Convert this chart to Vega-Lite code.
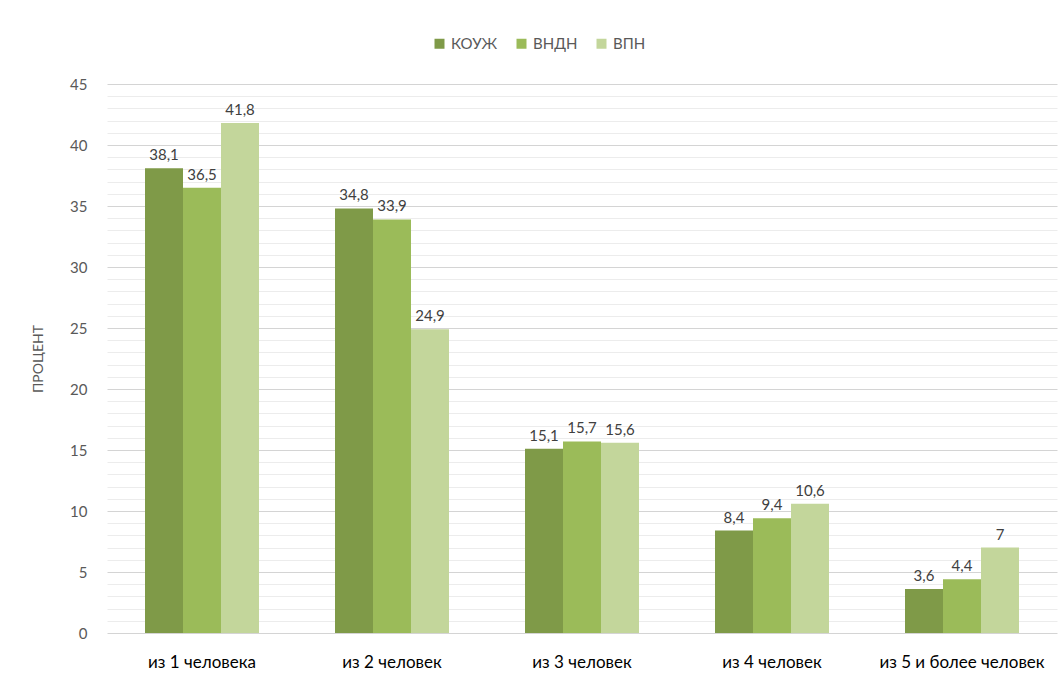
{
  "$schema": "https://vega.github.io/schema/vega-lite/v6.json",
  "autosize": "none",
  "width": 950,
  "height": 549,
  "padding": {"left": 107, "top": 84, "right": 5, "bottom": 49},
  "background": "white",
  "config": {
    "view": {"stroke": null},
    "font": "Lato",
    "locale": {"number": {"decimal": ",", "thousands": " ", "grouping": [3], "currency": ["", ""]}}
  },
  "data": {
    "values": [
      {"group": "из 1 человека", "series": "КОУЖ", "value": 38.1},
      {"group": "из 1 человека", "series": "ВНДН", "value": 36.5},
      {"group": "из 1 человека", "series": "ВПН", "value": 41.8},
      {"group": "из 2 человек", "series": "КОУЖ", "value": 34.8},
      {"group": "из 2 человек", "series": "ВНДН", "value": 33.9},
      {"group": "из 2 человек", "series": "ВПН", "value": 24.9},
      {"group": "из 3 человек", "series": "КОУЖ", "value": 15.1},
      {"group": "из 3 человек", "series": "ВНДН", "value": 15.7},
      {"group": "из 3 человек", "series": "ВПН", "value": 15.6},
      {"group": "из 4 человек", "series": "КОУЖ", "value": 8.4},
      {"group": "из 4 человек", "series": "ВНДН", "value": 9.4},
      {"group": "из 4 человек", "series": "ВПН", "value": 10.6},
      {"group": "из 5 и более человек", "series": "КОУЖ", "value": 3.6},
      {"group": "из 5 и более человек", "series": "ВНДН", "value": 4.4},
      {"group": "из 5 и более человек", "series": "ВПН", "value": 7}
    ]
  },
  "encoding": {
    "x": {
      "field": "group", "type": "nominal", "sort": null,
      "scale": {"paddingInner": 0.4, "paddingOuter": 0.2},
      "axis": {"title": null, "labelAngle": 0, "domain": false, "ticks": false, "labelPadding": 21, "labelFontSize": 17, "labelColor": "#000000", "labelFont": "Lato"}
    },
    "xOffset": {"field": "series", "type": "nominal", "sort": ["КОУЖ", "ВНДН", "ВПН"]},
    "y": {
      "field": "value", "type": "quantitative",
      "scale": {"domain": [0, 45], "nice": false},
      "axis": {
        "title": "ПРОЦЕНТ", "titleFontWeight": "normal", "titleFontSize": 14, "titleColor": "#595959", "titlePadding": 24,
        "values": [0,1,2,3,4,5,6,7,8,9,10,11,12,13,14,15,16,17,18,19,20,21,22,23,24,25,26,27,28,29,30,31,32,33,34,35,36,37,38,39,40,41,42,43,44,45],
        "labelExpr": "datum.value % 5 == 0 ? datum.label : ''",
        "domain": false, "ticks": false, "labelPadding": 20, "labelFontSize": 15, "labelColor": "#595959",
        "gridColor": {"condition": {"test": "datum.value % 5 == 0", "value": "#d4d4d4"}, "value": "#ececec"}
      }
    }
  },
  "layer": [
    {
      "mark": {"type": "bar"},
      "encoding": {
        "color": {
          "field": "series", "type": "nominal", "sort": ["КОУЖ", "ВНДН", "ВПН"],
          "scale": {"domain": ["КОУЖ", "ВНДН", "ВПН"], "range": ["#7f9a48", "#9bbb59", "#c3d69b"]},
          "legend": {"title": null, "orient": "none", "legendX": 325, "legendY": -48, "direction": "horizontal", "symbolType": "square", "symbolSize": 100, "symbolStrokeWidth": 0, "labelFontSize": 15, "labelColor": "#595959", "columnPadding": 16}
        }
      }
    },
    {
      "mark": {"type": "text", "dy": -13, "fontSize": 15, "color": "#404040"},
      "encoding": {
        "text": {"field": "value", "type": "quantitative", "format": ".1~f"}
      }
    }
  ]
}
